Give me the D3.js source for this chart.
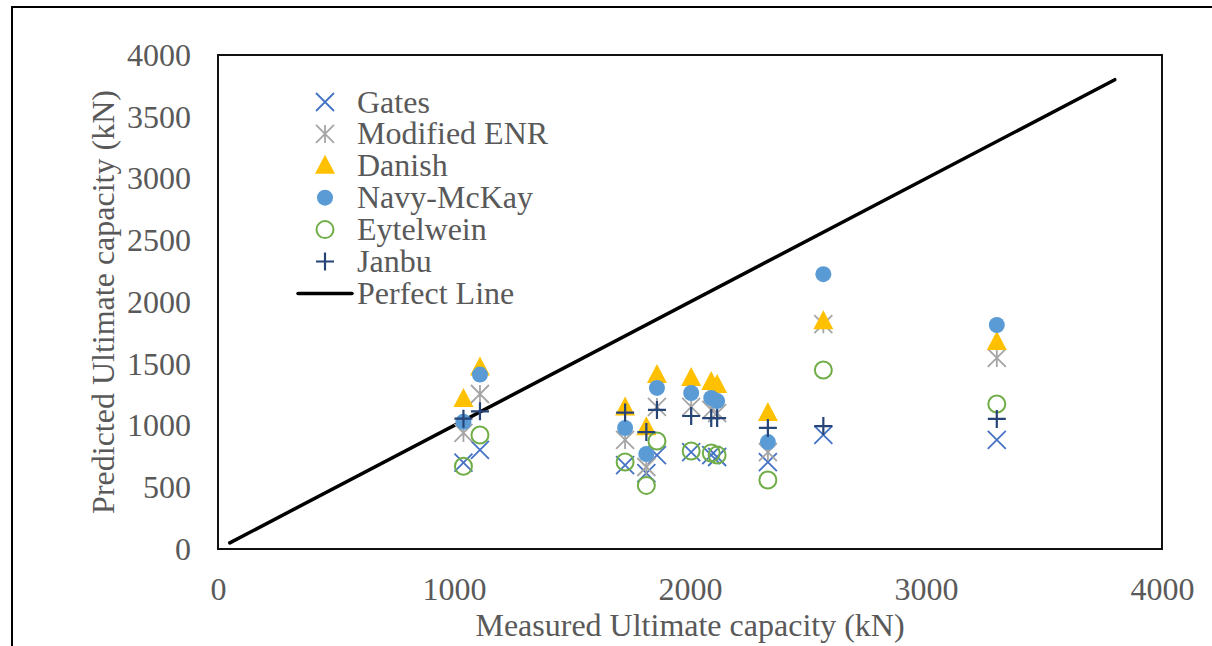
<html>
<head>
<script src="https://cdn.jsdelivr.net/npm/d3@7"></script>
<style>
    body { margin: 0; background: #fff; }
    svg { display: block; }
    text { font-family: "Liberation Serif", "Times New Roman", serif; fill: #595959; }
    .axis path { display: none; }
    .axis text { font-size: 32px; fill: #595959; font-family: "Liberation Serif", serif; }
</style>
</head>
<body>
<svg id='chart' width=1212 height=646></svg>
<script>

    // measured capacity (kN) for each pile
    var measured = [1040, 1110, 1725, 1815, 1860, 2005, 2090, 2115, 2330, 2565, 3300];

    // predicted capacity (kN) per method, same order as measured
    var gates     = [700, 802, 680, 615, 760, 785, 761, 745, 704, 925, 883];
    var modEnr    = [940, 1255, 883, 664, 1150, 1150, 1126, 1101, 785, 1820, 1547];
    var danish    = [1215, 1470, 1146, 985, 1409, 1385, 1352, 1328, 1101, 1845, 1676];
    var navyMckay = [1030, 1412, 980, 769, 1304, 1263, 1223, 1198, 866, 2225, 1814];
    var eytelwein = [670, 923, 704, 515, 874, 794, 777, 761, 559, 1449, 1174];
    var janbu     = [1055, 1115, 1105, 947, 1126, 1077, 1060, 1060, 980, 995, 1053];

    var perfectLine = [50, 3800];

    var xTicks = [0, 1000, 2000, 3000, 4000];
    var yTicks = [0, 500, 1000, 1500, 2000, 2500, 3000, 3500, 4000];

    var series = [
        {name: 'Gates',        values: gates,     shape: 'x',      color: '#4472C4'},
        {name: 'Modified ENR', values: modEnr,    shape: 'star',   color: '#A5A5A5'},
        {name: 'Danish',       values: danish,    shape: 'tri',    color: '#FFC000'},
        {name: 'Navy-McKay',   values: navyMckay, shape: 'dot',    color: '#5B9BD5'},
        {name: 'Eytelwein',    values: eytelwein, shape: 'circle', color: '#70AD47'},
        {name: 'Janbu',        values: janbu,     shape: 'plus',   color: '#264478'}
    ];

    var svg = d3.select('#chart');

    var plot = {left: 218, top: 55, right: 1162, bottom: 549};

    var x = d3.scaleLinear().domain([0, 4000]).range([plot.left, plot.right]);
    var y = d3.scaleLinear().domain([0, 4000]).range([plot.bottom, plot.top]);

    // outer frame (right/bottom run off the picture)
    svg.append('rect')
        .attr('x', 12).attr('y', 7)
        .attr('width', 1300).attr('height', 700)
        .attr('fill', 'none').attr('stroke', '#000').attr('stroke-width', 2);

    // plot box
    svg.append('rect')
        .attr('x', plot.left).attr('y', plot.top)
        .attr('width', plot.right - plot.left).attr('height', plot.bottom - plot.top)
        .attr('fill', '#fff').attr('stroke', '#111').attr('stroke-width', 2);

    // axes
    svg.append('g')
        .attr('class', 'axis')
        .attr('transform', 'translate(0,' + plot.bottom + ')')
        .call(d3.axisBottom(x).tickValues(xTicks).tickSize(0).tickPadding(28).tickFormat(d3.format('d')));

    svg.append('g')
        .attr('class', 'axis')
        .attr('transform', 'translate(' + plot.left + ',0)')
        .call(d3.axisLeft(y).tickValues(yTicks).tickSize(0).tickPadding(27).tickFormat(d3.format('d')));

    svg.selectAll('.axis text').attr('fill', '#595959');

    svg.append('text')
        .attr('x', 690).attr('y', 636)
        .attr('text-anchor', 'middle')
        .style('font-size', '32px')
        .text('Measured Ultimate capacity (kN)');

    svg.append('text')
        .attr('transform', 'translate(114,302) rotate(-90)')
        .attr('text-anchor', 'middle')
        .style('font-size', '32px')
        .text('Predicted Ultimate capacity (kN)');

    // perfect line
    svg.append('line')
        .attr('x1', x(perfectLine[0])).attr('y1', y(perfectLine[0]))
        .attr('x2', x(perfectLine[1])).attr('y2', y(perfectLine[1]))
        .attr('stroke', '#000').attr('stroke-width', 3.5).attr('stroke-linecap', 'round');

    // draws a marker of a given shape centred at 0,0 inside g
    function drawMarker(g, shape, color) {
        var r = 9;
        if (shape === 'x') {
            g.append('path')
                .attr('d', 'M' + -r + ',' + -r + 'L' + r + ',' + r + 'M' + -r + ',' + r + 'L' + r + ',' + -r)
                .attr('stroke', color).attr('stroke-width', 1.8).attr('fill', 'none');
        } else if (shape === 'star') {
            g.append('path')
                .attr('d', 'M' + -r + ',' + -r + 'L' + r + ',' + r + 'M' + -r + ',' + r + 'L' + r + ',' + -r +
                           'M0,' + -r + 'L0,' + r)
                .attr('stroke', color).attr('stroke-width', 1.8).attr('fill', 'none');
        } else if (shape === 'tri') {
            g.append('path')
                .attr('d', 'M0,-11L10,8L-10,8Z')
                .attr('fill', color);
        } else if (shape === 'dot') {
            g.append('circle').attr('r', 8).attr('fill', color);
        } else if (shape === 'circle') {
            g.append('circle').attr('r', 8.5)
                .attr('fill', 'none').attr('stroke', color).attr('stroke-width', 2);
        } else if (shape === 'plus') {
            g.append('path')
                .attr('d', 'M' + -r + ',0L' + r + ',0M0,' + -r + 'L0,' + r)
                .attr('stroke', color).attr('stroke-width', 2.2).attr('fill', 'none');
        }
    }

    // points
    series.forEach(function(s) {
        var pts = svg.append('g').attr('class', 'series')
            .selectAll('.pt')
            .data(s.values)
          .enter()
            .append('g')
            .attr('class', 'pt')
            .attr('transform', function(d, i) { return 'translate(' + x(measured[i]) + ',' + y(d) + ')'; });

        pts.each(function() { drawMarker(d3.select(this), s.shape, s.color); });
    });

    // legend
    var legend = svg.append('g').attr('class', 'legend');
    var rowY = function(i) { return 102 + i * 31.9; };

    series.forEach(function(s, i) {
        var m = legend.append('g').attr('transform', 'translate(325,' + rowY(i) + ')');
        drawMarker(m, s.shape, s.color);
        legend.append('text')
            .attr('x', 357).attr('y', rowY(i) + 10.5)
            .style('font-size', '32px')
            .text(s.name);
    });

    legend.append('line')
        .attr('x1', 298).attr('x2', 352)
        .attr('y1', rowY(6)).attr('y2', rowY(6))
        .attr('stroke', '#000').attr('stroke-width', 3.5).attr('stroke-linecap', 'round');

    legend.append('text')
        .attr('x', 357).attr('y', rowY(6) + 10.5)
        .style('font-size', '32px')
        .text('Perfect Line');

</script>
</body>
</html>
